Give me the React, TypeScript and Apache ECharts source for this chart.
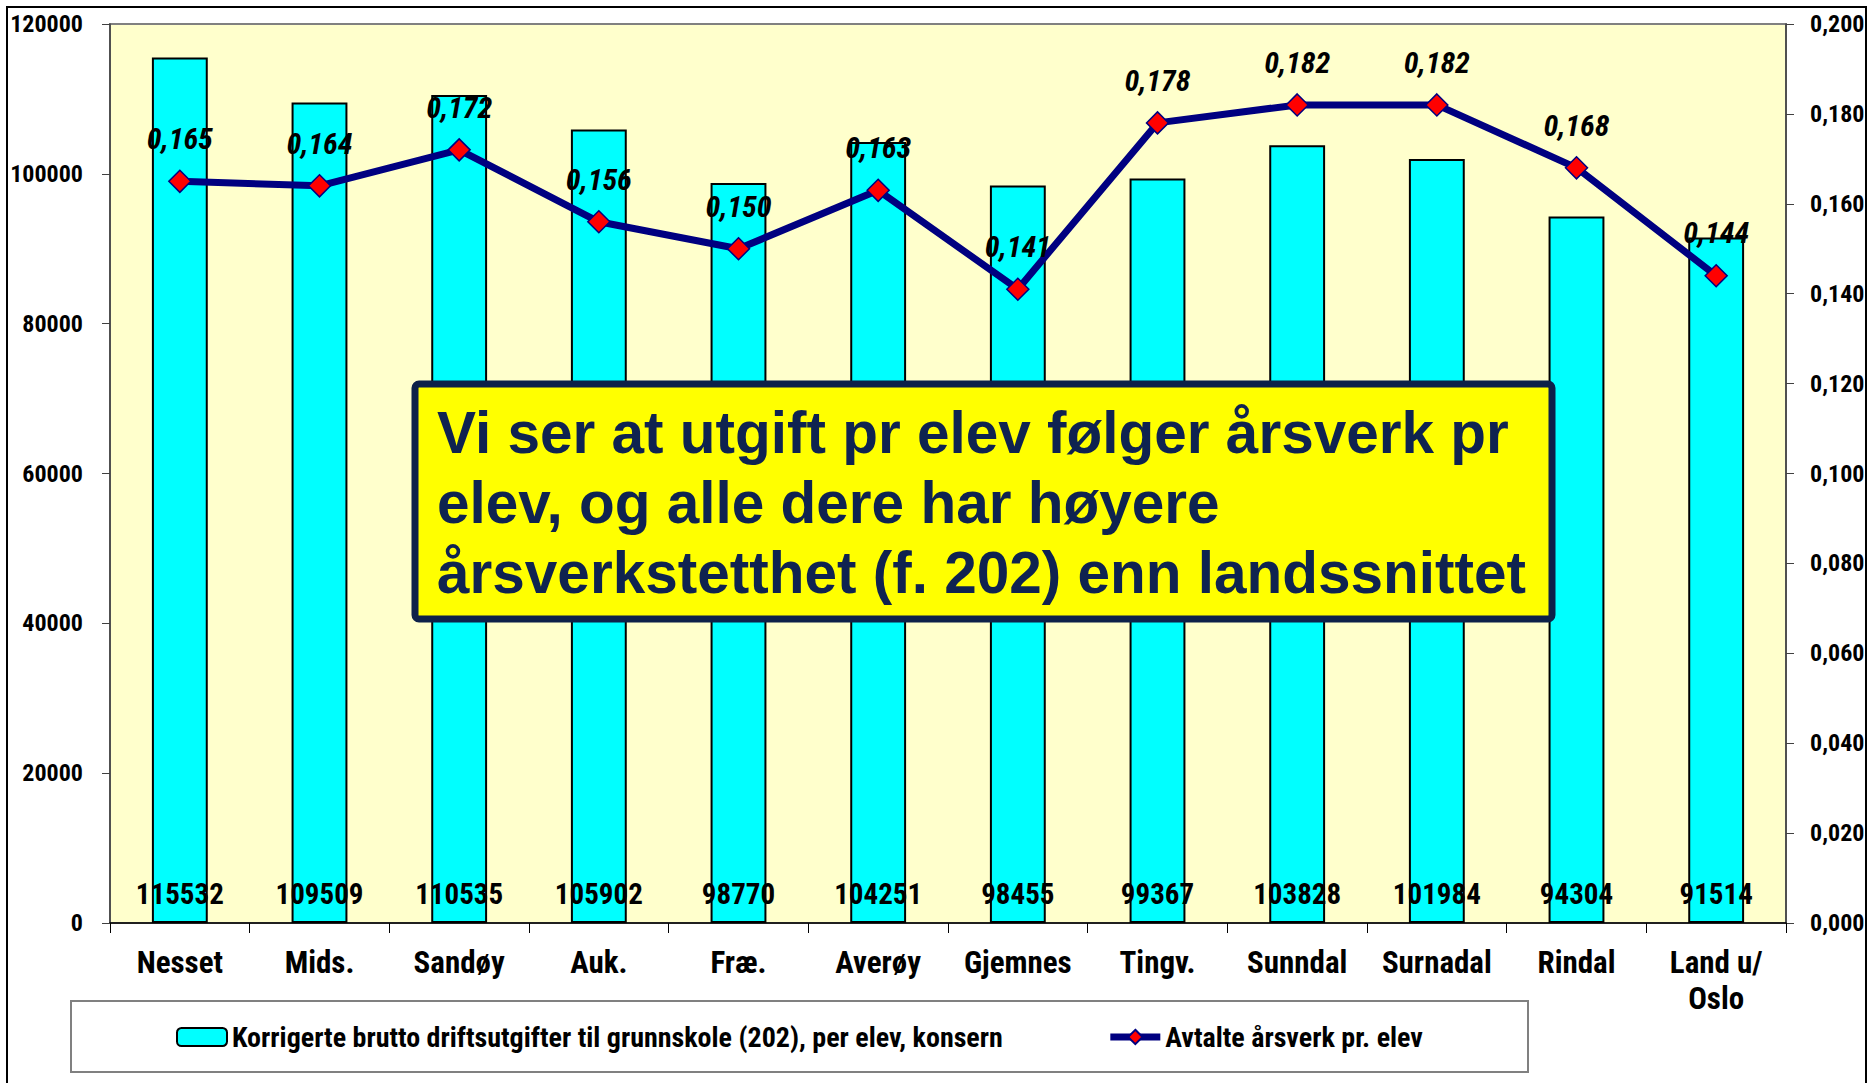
import React, { useEffect, useRef } from "react";
import * as echarts from "echarts";

const categories = ["Nesset", "Mids.", "Sandøy", "Auk.", "Fræ.", "Averøy", "Gjemnes", "Tingv.", "Sunndal", "Surnadal", "Rindal", "Land u/\nOslo"];
const expenses = [115532, 109509, 110535, 105902, 98770, 104251, 98455, 99367, 103828, 101984, 94304, 91514];
const fte = [0.165, 0.164, 0.172, 0.156, 0.150, 0.163, 0.141, 0.178, 0.182, 0.182, 0.168, 0.144];
const barName = "Korrigerte brutto driftsutgifter til grunnskole (202), per elev, konsern";
const lineName = "Avtalte årsverk pr. elev";
const noteText = "Vi ser at utgift pr elev følger årsverk pr\nelev, og alle dere har høyere\nårsverkstetthet (f. 202) enn landssnittet";

const NARROW = "Roboto, STRETCHN, sans-serif";
const WIDE = "'Liberation Sans', Arial, sans-serif";

export default function App() {
  const ref = useRef<HTMLDivElement>(null);
  useEffect(() => {
    document.body.style.margin = "0";
    const st = document.createElement("style");
    st.textContent = `text[style*="STRETCHN"], text[font-family*="STRETCHN"] { font-stretch: 75% !important; }`;
    document.head.appendChild(st);
    const mc = document.createElement("canvas").getContext("2d") as any;
    echarts.setPlatformAPI({
      measureText: (text: string, font?: string) => {
        mc.font = font || "12px sans-serif";
        mc.fontStretch = font && font.indexOf("STRETCHN") >= 0 ? "condensed" : "normal";
        return mc.measureText(text);
      },
    } as any);
    const chart = echarts.init(ref.current!, null, { renderer: "svg" });
    const fmtComma = (v: number) => v.toFixed(3).replace(".", ",");
    chart.setOption({
      animation: false,
      backgroundColor: "#ffffff",
      grid: {
        left: 110, right: 82, top: 24, bottom: 160, containLabel: false, outerBoundsMode: "none",
        show: true, backgroundColor: "#FFFFCC", borderColor: "#808080", borderWidth: 2,
      },
      legend: {
        left: 176, top: 1021, itemWidth: 50, itemHeight: 18, itemGap: 104, padding: 0,
        textStyle: { fontFamily: NARROW, fontWeight: "bold", fontSize: 28, color: "#000", lineHeight: 32 },
        data: [{ name: barName }, { name: lineName, lineStyle: { width: 7 } }],
      },
      xAxis: {
        type: "category", data: categories,
        axisLine: { lineStyle: { color: "#000", width: 1.5 } },
        axisTick: { show: true, length: 10, lineStyle: { color: "#000" } },
        axisLabel: { fontFamily: NARROW, fontWeight: "bold", fontSize: 31, color: "#000", margin: 21, lineHeight: 36, interval: 0 },
      },
      yAxis: [
        {
          type: "value", min: 0, max: 120000, interval: 20000, position: "left",
          splitLine: { show: false },
          axisLine: { show: true, lineStyle: { color: "#404040", width: 1.5 } },
          axisTick: { show: true, length: 8, lineStyle: { color: "#404040" } },
          axisLabel: { fontFamily: NARROW, fontWeight: "bold", fontSize: 24, color: "#000", margin: 27, formatter: (v: number) => String(v) },
        },
        {
          type: "value", min: 0, max: 0.2, interval: 0.02, position: "right",
          splitLine: { show: false },
          axisLine: { show: true, lineStyle: { color: "#404040", width: 1.5 } },
          axisTick: { show: true, length: 8, lineStyle: { color: "#404040" } },
          axisLabel: { fontFamily: NARROW, fontWeight: "bold", fontSize: 24, color: "#000", margin: 24, formatter: (v: number) => fmtComma(v) },
        },
      ],
      series: [
        {
          name: barName, type: "bar", data: expenses, barWidth: "40%", yAxisIndex: 0,
          itemStyle: { color: "#00FFFF", borderColor: "#000", borderWidth: 2 },
          label: {
            show: true, position: "insideBottom", distance: 15,
            fontFamily: NARROW, fontWeight: "bold", fontSize: 29, color: "#000",
          },
          z: 2,
        },
        {
          name: lineName, type: "line", data: fte, yAxisIndex: 1,
          lineStyle: { color: "#000080", width: 7 },
          symbol: "diamond", symbolSize: 22,
          itemStyle: { color: "#FF0000", borderColor: "#000080", borderWidth: 1.5 },
          label: {
            show: true, position: "top", distance: 16,
            fontFamily: NARROW, fontWeight: "bold", fontStyle: "italic", fontSize: 30, color: "#000",
            formatter: (p: any) => fmtComma(p.value),
          },
          z: 5,
        },
      ],
      graphic: [
        {
          type: "rect", z: -10, silent: true,
          shape: { x: 7, y: 7, width: 1859, height: 1100 },
          style: { fill: "none", stroke: "#000", lineWidth: 2 },
        },
        {
          type: "rect", z: -5, silent: true,
          shape: { x: 71, y: 1001, width: 1457, height: 71 },
          style: { fill: "#fff", stroke: "#808080", lineWidth: 2 },
        },
        {
          type: "rect", z: 100,
          shape: { x: 415, y: 384, width: 1137, height: 235, r: 4 },
          style: { fill: "#FFFF00", stroke: "#0D2149", lineWidth: 7 },
        },
        {
          type: "text", z: 101, x: 437, y: 502,
          style: {
            text: noteText, fill: "#0F2350", fontFamily: WIDE, fontWeight: "bold", fontSize: 58.5,
            lineHeight: 70, verticalAlign: "middle", align: "left",
          },
        },
      ],
    });
    return () => {
      chart.dispose();
      st.remove();
    };
  }, []);
  return <div ref={ref} style={{ width: 1868, height: 1083 }} />;
}
